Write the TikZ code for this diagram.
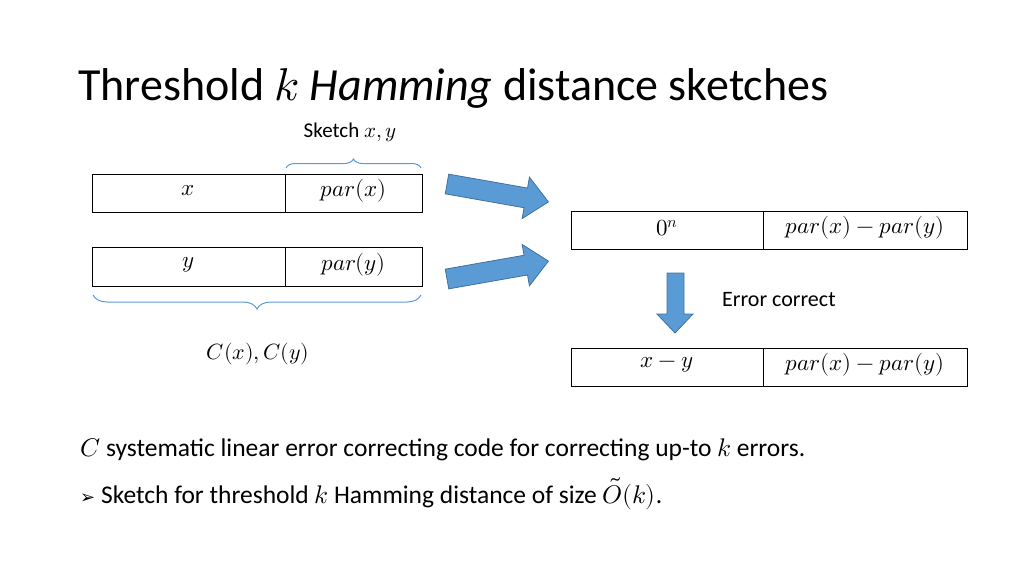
\documentclass[tikz,border=0pt]{standalone}
\usepackage{fontspec}
\usepackage{unicode-math}
\setmainfont{Carlito}
\setmathfont{Latin Modern Math}
\newfontfamily\symfont{DejaVu Sans}
\usetikzlibrary{decorations.pathreplacing}
\definecolor{arrfill}{HTML}{5B9BD5}
\definecolor{arrline}{HTML}{41719C}
\begin{document}
\begin{tikzpicture}[x=1pt,y=-1pt,
  cell/.style={draw,line width=0.8pt,inner sep=0pt,font=\fontsize{23}{25}\selectfont},
  barrow/.style={draw=arrline,fill=arrfill,line width=0.8pt},
  brc/.style={draw=arrfill,line width=1pt,decorate},
  txt/.style={font=\fontsize{25.5}{27}\selectfont,anchor=base west,inner sep=0pt}]
\useasboundingbox (0,0) rectangle (1024,576);
\node[anchor=base west,inner sep=0pt,font=\fontsize{46}{50}\selectfont] (title) at (78,100) {Threshold $k$ \emph{Hamming} distance sketches};
% left boxes
\draw[cell] (92,174) rectangle (285,212) node[midway,yshift=2pt] (x) {$x$};
\draw[cell] (285,174) rectangle (422,212) node[midway,yshift=2pt] (px) {$par(x)$};
\draw[cell] (92,247) rectangle (285,286) node[midway,yshift=2pt] (y) {$y$};
\draw[cell] (285,247) rectangle (422,286) node[midway,yshift=2pt] (py) {$par(y)$};
\draw[brc,decoration={brace,amplitude=9pt}] (286,168) -- (421,168);
\node[font=\fontsize{21}{23}\selectfont] (sk) at (350,132) {Sketch $x,y$};
\draw[brc,decoration={brace,mirror,amplitude=14pt}] (93,295) -- (421,295);
\node[font=\fontsize{22}{24}\selectfont] (cc) at (258,354) {$C(x),C(y)$};
% right boxes
\draw[cell] (571,211) rectangle (763,249) node[midway,yshift=2pt] (z) {$0^n$};
\draw[cell] (763,211) rectangle (967,249) node[midway,yshift=2pt] (d1) {$par(x)-par(y)$};
\draw[cell] (571,348) rectangle (763,386) node[midway,yshift=2pt] (xy) {$x-y$};
\draw[cell] (763,348) rectangle (967,386) node[midway,yshift=2pt] (d2) {$par(x)-par(y)$};
% arrows
\begin{scope}[shift={(447,184)},rotate=-10]
\draw[barrow] (0,-10) -- (80,-10) -- (80,-21) -- (103,0) -- (80,21) -- (80,10) -- (0,10) -- cycle;
\end{scope}
\begin{scope}[shift={(447,279)},rotate=10]
\draw[barrow] (0,-10) -- (80,-10) -- (80,-21) -- (103,0) -- (80,21) -- (80,10) -- (0,10) -- cycle;
\end{scope}
\draw[barrow] (667,273) -- (684,273) -- (684,314) -- (693,314) -- (675,333) -- (657,314) -- (667,314) -- cycle;
\node[txt,font=\fontsize{22}{24}\selectfont] (ec) at (722,306) {Error correct};
% bottom text
\node[txt] (l1) at (80,456) {$C$ systematic linear error correcting code for correcting up-to $k$ errors.};
\node[txt] (l2) at (80,503) {{\symfont\fontsize{18}{19}\selectfont ➢} Sketch for threshold $k$ Hamming distance of size $\tilde{O}(k)$.};
\end{tikzpicture}
\end{document}
